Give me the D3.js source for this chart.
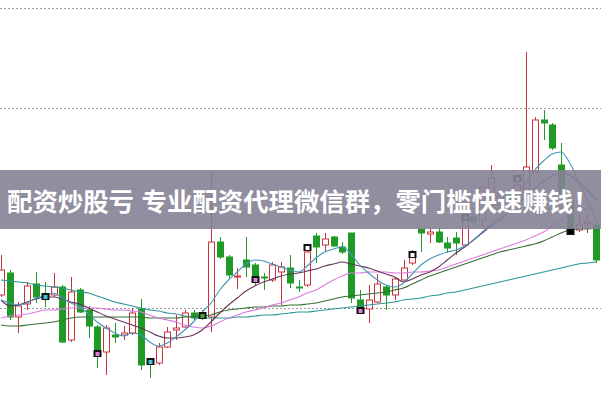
<!DOCTYPE html>
<html><head><meta charset="utf-8">
<script src="https://cdn.jsdelivr.net/npm/d3@7"></script>
<style>html,body{margin:0;padding:0;background:#fff;overflow:hidden}</style>
</head><body>
<svg id="c" width="601" height="400"></svg>
<script>
const open  = [10.13,10.35,9.91,10.04,10.24,10.13,10.13,10.21,9.68,10.18,9.98,9.81,9.56,9.73,9.73,9.75,9.99,9.47,9.45,9.61,9.78,9.81,9.95,9.93,9.91,10.66,10.51,10.31,10.48,10.43,10.31,10.28,10.36,10.40,10.21,10.23,10.72,10.63,10.71,10.61,10.75,10.08,9.99,10.06,10.21,10.13,10.28,10.45,10.79,10.74,10.76,10.65,10.70,10.63,10.91,10.88,11.03,11.03,11.13,11.10,11.13,11.36,11.88,11.83,11.43,11.08,10.78,10.84,10.83];
const high  = [10.53,10.38,10.06,10.26,10.36,10.26,10.35,10.23,10.31,10.20,10.02,9.83,9.83,9.85,9.82,10.00,10.09,9.50,9.65,9.81,9.93,9.98,9.98,9.98,11.36,10.71,10.53,10.40,10.71,10.45,10.35,10.46,10.46,10.53,10.28,10.58,10.75,10.75,10.72,10.66,10.75,10.18,10.23,10.34,10.23,10.31,10.48,10.58,10.80,10.80,10.80,10.71,10.76,10.95,10.95,11.21,11.43,11.18,11.18,11.28,12.56,11.91,11.98,11.85,11.65,11.13,10.95,10.95,10.88];
const low   = [10.11,9.88,9.75,9.98,10.05,10.01,10.11,9.65,9.66,9.95,9.70,9.40,9.33,9.65,9.68,9.73,9.38,9.30,9.43,9.60,9.68,9.80,9.88,9.88,9.76,10.49,10.30,10.19,10.31,10.23,10.18,10.26,10.03,10.20,10.16,10.21,10.45,10.56,10.61,10.54,10.05,9.98,9.85,10.05,9.98,10.08,10.26,10.43,10.56,10.65,10.65,10.55,10.53,10.61,10.83,10.81,10.98,10.98,11.00,11.05,11.08,11.35,11.68,11.58,11.08,10.75,10.76,10.75,10.45];
const close = [10.38,9.91,10.02,10.22,10.11,10.11,10.21,9.66,10.16,9.96,9.82,9.58,9.80,9.71,9.75,9.95,9.43,9.45,9.61,9.76,9.80,9.95,9.90,9.92,10.66,10.51,10.33,10.32,10.41,10.32,10.30,10.43,10.41,10.25,10.20,10.56,10.61,10.69,10.62,10.56,10.10,10.01,10.08,10.24,10.13,10.29,10.40,10.51,10.75,10.76,10.66,10.60,10.65,10.90,10.86,11.21,11.30,11.13,11.05,11.23,11.41,11.88,11.85,11.60,11.13,10.78,10.83,10.86,10.48];

const ma5  = [10.08,10.05,10.03,10.05,10.10,10.12,10.15,10.10,10.05,10.01,9.94,9.86,9.80,9.75,9.72,9.75,9.73,9.66,9.62,9.65,9.71,9.78,9.86,9.96,10.05,10.18,10.28,10.36,10.44,10.48,10.47,10.44,10.41,10.38,10.36,10.42,10.50,10.56,10.59,10.61,10.54,10.43,10.35,10.28,10.23,10.21,10.25,10.34,10.43,10.49,10.53,10.56,10.58,10.62,10.68,10.76,10.84,10.91,11.03,11.15,11.25,11.38,11.47,11.54,11.56,11.45,11.27,11.08,10.88];
const ma10 = [10.08,10.02,10.03,10.06,10.09,10.11,10.11,10.09,10.06,10.04,10.00,9.96,9.92,9.89,9.86,9.83,9.80,9.76,9.72,9.70,9.70,9.71,9.73,9.78,9.86,9.95,10.03,10.10,10.17,10.22,10.26,10.29,10.32,10.34,10.35,10.37,10.39,10.42,10.44,10.46,10.44,10.42,10.40,10.37,10.34,10.31,10.26,10.29,10.33,10.36,10.41,10.48,10.55,10.61,10.68,10.75,10.82,10.88,10.96,11.04,11.11,11.19,11.27,11.32,11.35,11.33,11.26,11.18,11.08];
const ma20 = [9.90,9.92,9.93,9.94,9.96,9.98,9.98,9.99,10.00,10.00,10.00,10.00,9.99,9.98,9.98,9.97,9.96,9.93,9.90,9.88,9.86,9.83,9.81,9.80,9.82,9.86,9.90,9.93,9.96,9.98,10.00,10.03,10.05,10.08,10.11,10.15,10.18,10.23,10.28,10.32,10.35,10.35,10.36,10.36,10.36,10.35,10.35,10.36,10.36,10.37,10.38,10.41,10.44,10.47,10.50,10.53,10.56,10.59,10.62,10.65,10.68,10.72,10.76,10.82,10.88,10.93,10.97,11.00,11.02];
const ma30 = [9.83,9.82,9.82,9.83,9.84,9.85,9.86,9.88,9.90,9.91,9.91,9.91,9.91,9.91,9.91,9.91,9.91,9.90,9.90,9.90,9.90,9.91,9.91,9.92,9.93,9.96,9.98,9.99,10.00,10.01,10.01,10.02,10.02,10.03,10.03,10.04,10.05,10.07,10.09,10.11,10.12,10.13,10.14,10.15,10.16,10.18,10.20,10.24,10.28,10.32,10.35,10.38,10.41,10.44,10.47,10.50,10.53,10.56,10.58,10.60,10.62,10.64,10.67,10.71,10.75,10.78,10.79,10.79,10.80];
const ma60 = [10.28,10.27,10.26,10.25,10.23,10.22,10.21,10.20,10.18,10.16,10.15,10.12,10.09,10.06,10.04,10.02,10.00,9.98,9.97,9.95,9.94,9.92,9.91,9.90,9.90,9.90,9.90,9.91,9.91,9.92,9.93,9.93,9.94,9.95,9.96,9.96,9.97,9.98,9.99,10.00,10.01,10.02,10.03,10.04,10.05,10.06,10.08,10.09,10.10,10.12,10.13,10.15,10.16,10.18,10.20,10.22,10.24,10.26,10.28,10.30,10.32,10.34,10.36,10.38,10.40,10.42,10.44,10.45,10.46];

const gridValues = [10, 11, 12, 13];
const markerIdx   = [5, 11, 17, 23, 29, 35, 41, 47, 53, 59, 65];
const markerPos   = [10.12, 9.55, 9.47, 9.93, 10.29, 10.61, 9.98, 10.54, 10.91, 11.30, 10.77];
const markerColor = ["#3ec8d8","#e07de0","#3ec8d8","#3cb040","#e07de0","#ffffff","#e07de0","#ffffff","#6fb6e8","#ffffff","#000000"];
const bannerText = "配资炒股亏 专业配资代理微信群，零门槛快速赚钱！";

const svg = d3.select("#c");
const n = open.length;
const x = d3.scaleLinear().domain([0, n - 1]).range([1, 596]);
const y = d3.scaleLinear().domain([10, 13]).range([308, 8]);

// grid
svg.append("g").selectAll("line").data(gridValues).join("line")
  .attr("x1", 0).attr("x2", 601)
  .attr("y1", d => Math.round(y(d)) + 0.5).attr("y2", d => Math.round(y(d)) + 0.5)
  .attr("stroke", "#9a9a9a").attr("stroke-width", 1).attr("stroke-dasharray", "2,2");

// candles
const idx = d3.range(n);
const up = i => close[i] >= open[i];
const bw = 6;
const cg = svg.append("g");
cg.selectAll("line.w").data(idx).join("line")
  .attr("x1", i => Math.round(x(i)) + 0.5).attr("x2", i => Math.round(x(i)) + 0.5)
  .attr("y1", i => y(high[i])).attr("y2", i => y(low[i]))
  .attr("stroke", i => up(i) ? "#c8323c" : "#1f9a26").attr("stroke-width", 1);
cg.selectAll("rect.b").data(idx).join("rect")
  .attr("x", i => Math.round(x(i)) - bw / 2 + 0.5)
  .attr("width", bw)
  .attr("y", i => y(Math.max(open[i], close[i])))
  .attr("height", i => Math.max(1, Math.abs(y(open[i]) - y(close[i]))))
  .attr("fill", i => up(i) ? "#ffffff" : "#1f9a26")
  .attr("stroke", i => up(i) ? "#c8323c" : "#1f9a26").attr("stroke-width", 1);

// moving averages
const line = arr => d3.line().x((d, i) => x(i)).y(d => y(d)).curve(d3.curveMonotoneX)(arr);
const mas = [[ma60, "#2a9696"], [ma30, "#357030"], [ma20, "#de78e2"], [ma10, "#683458"], [ma5, "#4496b8"]];
svg.append("g").selectAll("path").data(mas).join("path")
  .attr("d", d => line(d[0])).attr("fill", "none")
  .attr("stroke", d => d[1]).attr("stroke-width", 1.1);

// markers
const mg = svg.append("g").selectAll("g").data(markerIdx).join("g")
  .attr("transform", (d, k) => `translate(${Math.round(x(d)) - 3.5},${Math.round(y(markerPos[k])) - 3})`);
mg.append("rect").attr("width", 8).attr("height", 7).attr("fill", "#111");
mg.append("rect").attr("x", 2).attr("y", 2).attr("width", 4).attr("height", 4)
  .attr("fill", (d, k) => markerColor[k]);

// banner
svg.append("rect").attr("x", 0).attr("y", 170).attr("width", 601).attr("height", 59)
  .attr("fill", "rgb(133,130,149)").attr("fill-opacity", 0.9);
const parts = bannerText.split(" ");
const t = svg.append("text").attr("x", 7).attr("y", 200)
  .attr("dominant-baseline", "central")
  .attr("font-family", "'Noto Sans CJK SC', sans-serif").attr("font-weight", "bold")
  .attr("font-size", 25.4).attr("fill", "#fff");
t.selectAll("tspan").data(parts).join("tspan")
  .attr("dx", (d, i) => i === 0 ? 0 : "0.3em").text(d => d);
</script>
</body></html>
